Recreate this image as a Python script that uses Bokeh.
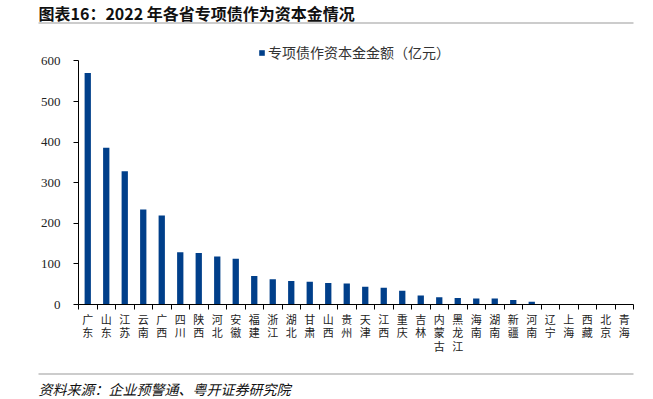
from bokeh.plotting import figure
from bokeh.layouts import column
from bokeh.models import Range1d, FixedTicker, Label, BoxAnnotation, Legend, LegendItem, ColumnDataSource
from bokeh.embed import file_html
from bokeh.resources import INLINE

title_text = "图表16：2022 年各省专项债作为资本金情况"
source_text = "资料来源：企业预警通、粤开证券研究院"
series_name = "专项债作资本金金额（亿元）"

provinces = ["广东", "山东", "江苏", "云南", "广西", "四川", "陕西", "河北", "安徽", "福建",
             "浙江", "湖北", "甘肃", "山西", "贵州", "天津", "江西", "重庆", "吉林", "内蒙古",
             "黑龙江", "海南", "湖南", "新疆", "河南", "辽宁", "上海", "西藏", "北京", "青海"]
values = [570, 386, 328, 234, 219, 129, 127, 118, 113, 70,
          62, 58, 56, 53, 52, 44, 41, 34, 22, 18,
          16, 15, 15, 11, 6.5, 0, 0, 0, 0, 0]
y_ticks = [0, 100, 200, 300, 400, 500, 600]

n = len(provinces)
centers = [i + 0.5 for i in range(n)]
bounds = [i for i in range(n + 1)]

W = 653
TOP_H, MAIN_H, FOOT_H = 30, 340, 29


def transparent(f):
    f.outline_line_color = None
    f.grid.visible = False
    f.border_fill_alpha = 0
    f.background_fill_alpha = 0


def blank_fig(h):
    f = figure(width=W, height=h, output_backend="svg", toolbar_location=None,
               x_range=Range1d(0, 1), y_range=Range1d(0, 1),
               x_axis_location=None, y_axis_location=None,
               min_border=0, min_border_left=0, min_border_right=0,
               min_border_top=0, min_border_bottom=0, frame_align=False)
    transparent(f)
    return f


def hline(f, y_from_top):
    h = f.height
    f.add_layout(BoxAnnotation(left=38, right=633, bottom=h - y_from_top - 1, top=h - y_from_top,
                               left_units="screen", right_units="screen",
                               bottom_units="screen", top_units="screen",
                               fill_color="#9a9a9a", fill_alpha=1, line_color=None))


# ---- title strip
top = blank_fig(TOP_H)
top.add_layout(Label(x=38, y=TOP_H - 12, x_units="screen", y_units="screen", text=title_text,
                     text_font="Noto Sans CJK SC", text_font_size="16px", text_font_style="bold",
                     text_color="#111111", text_baseline="middle", text_align="left"))
hline(top, 22)

# ---- main chart
p = figure(width=W, height=MAIN_H, output_backend="svg", toolbar_location=None,
           x_range=Range1d(0, n), y_range=Range1d(0, 670), frame_align=False,
           min_border_left=78, min_border_right=20, min_border_top=2, min_border_bottom=66)
transparent(p)

src = ColumnDataSource(dict(x=centers, top=values, name=provinces))
r = p.vbar(x="x", top="top", width=0.34, bottom=0, source=src,
           fill_color="#003F8A", line_color=None)

xa = p.xaxis[0]
xa.ticker = FixedTicker(ticks=centers, minor_ticks=bounds)
xa.major_label_overrides = {c: "\n".join(nm) for c, nm in zip(centers, provinces)}
xa.major_tick_in = 0
xa.major_tick_out = 0
xa.minor_tick_in = 0
xa.minor_tick_out = 5
xa.minor_tick_line_color = "black"
xa.axis_line_color = "black"
xa.major_label_standoff = 1
xa.major_label_text_font = "Noto Sans CJK SC"
xa.major_label_text_font_size = "11px"
xa.major_label_text_color = "#222222"
xa.major_label_text_line_height = 0.86

ya = p.yaxis[0]
ya.ticker = FixedTicker(ticks=y_ticks, minor_ticks=[])
ya.bounds = (0, 600)
ya.major_tick_in = 0
ya.major_tick_out = 5
ya.major_tick_line_color = "black"
ya.axis_line_color = "black"
ya.major_label_standoff = 13
ya.major_label_text_font = "Liberation Serif"
ya.major_label_text_font_size = "13px"
ya.major_label_text_color = "#222222"

legend = Legend(items=[LegendItem(label=series_name, renderers=[r])], location=(180, 242),
                glyph_width=7, glyph_height=7, label_standoff=3, padding=0, margin=0,
                spacing=0, label_height=14, border_line_color=None, background_fill_alpha=0,
                label_text_font="Noto Sans CJK SC", label_text_font_size="14px",
                label_text_color="#333333")
p.add_layout(legend)

# ---- source strip
foot = blank_fig(FOOT_H)
hline(foot, 3)
foot.add_layout(Label(x=38, y=FOOT_H - 18, x_units="screen", y_units="screen", text=source_text,
                      text_font="Noto Sans CJK SC", text_font_size="14px", text_font_style="italic",
                      text_color="#111111", text_baseline="middle", text_align="left"))

page = column(top, p, foot, spacing=0)
open("out.html", "w").write(file_html(page, INLINE))
